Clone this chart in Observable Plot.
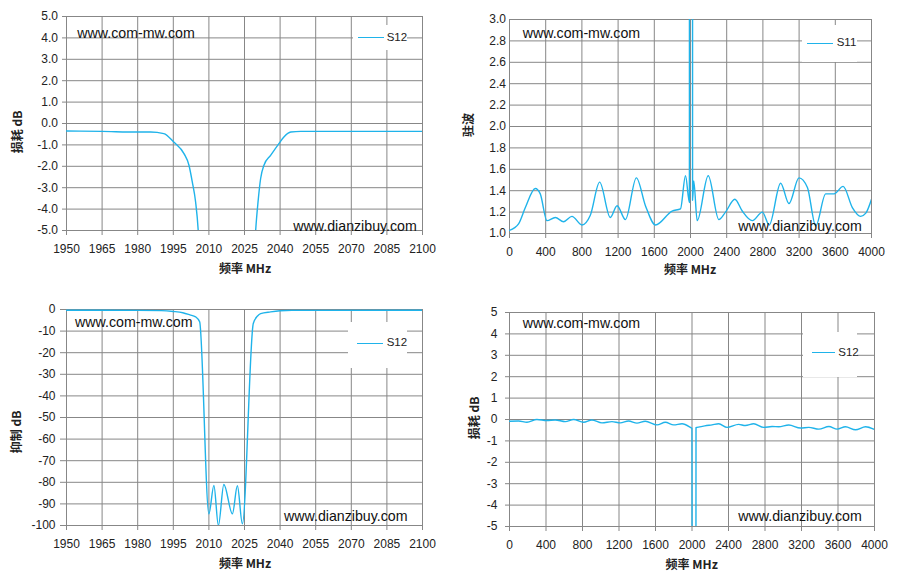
<!DOCTYPE html>
<html><head><meta charset="utf-8">
<script src="https://cdn.jsdelivr.net/npm/d3@7"></script>
<script src="https://cdn.jsdelivr.net/npm/@observablehq/plot@0.6"></script>
<style>
body{margin:0;background:#fff}
#wrap{position:relative;width:897px;height:577px;overflow:hidden;font-family:"Liberation Sans",Arial,"Noto Sans CJK SC",sans-serif;color:#222}
.abs{position:absolute;white-space:nowrap}
.wm{font-size:14.2px;color:#111;line-height:1;transform:translateY(-50%)}
.xt{font-size:12px;font-weight:bold;transform:translate(-50%,-50%);font-family:"Noto Sans CJK SC","Liberation Sans",sans-serif}
.yt{font-size:12px;font-weight:bold;transform:translate(-50%,-50%) rotate(-90deg);font-family:"Noto Sans CJK SC","Liberation Sans",sans-serif}
.lg{background:#fff}
.lgl{position:absolute;height:0;border-top:1.5px solid #1fb3ea}
.lgt{font-size:11.5px;transform:translateY(-50%);line-height:1}
</style></head>
<body><div id="wrap"></div>
<script>
// ---- data ----
// Panel 1: S12 insertion loss (zoom) 1950-2100 MHz
const f1 = [1950,1965,1980,1985.4,1991,1995.2,1999.5,2001.6,2003,2004.4,2005.5,2007,2028,2029.7,2030.7,2031.8,2033.2,2036,2039.5,2041.6,2044.5,2048.7,2070,2100];
const s1 = [-0.35,-0.37,-0.4,-0.4,-0.47,-0.87,-1.41,-1.95,-2.73,-3.67,-5.0,-9,-9,-5.0,-3.67,-2.57,-1.95,-1.49,-0.94,-0.63,-0.4,-0.37,-0.37,-0.37];
// Panel 2: S11 VSWR 0-4000 MHz
const f2 = [0,100,174,285,340,414,506,598,690,801,893,996,1114,1189,1281,1402,1502,1613,1797,1889,1945,1988,1993,2018,2023,2036,2074,2196,2313,2387,2490,2572,2683,2794,2870,2996,3088,3199,3292,3384,3494,3586,3686,3790,3880,3937,4000];
const v2 = [1.03,1.09,1.24,1.42,1.37,1.12,1.15,1.11,1.16,1.08,1.17,1.48,1.15,1.26,1.13,1.52,1.26,1.08,1.21,1.23,1.54,1.29,30,30,1.31,1.49,1.12,1.54,1.13,1.20,1.32,1.21,1.12,1.20,1.08,1.47,1.28,1.52,1.43,1.07,1.37,1.37,1.44,1.24,1.16,1.19,1.32];
// Panel 3: S12 rejection 1950-2100 MHz
const f3 = [1950,1980,1990,1995,1999,2002,2004.4,2006.1,2010,2012.1,2014,2016.3,2019.9,2022,2024.1,2028.7,2030.5,2031.8,2036,2040,2045,2100];
const s3 = [-0.35,-0.4,-0.5,-0.9,-1.5,-2.5,-3.4,-5.7,-94.6,-81.5,-100,-81,-94.6,-81.6,-99.2,-6.5,-3,-1.9,-1.1,-0.6,-0.4,-0.37];
// Panel 4: S12 insertion loss 0-4000 MHz
const f4 = [0,100,191,300,410,501,611,702,812,903,1013,1123,1214,1305,1397,1488,1617,1708,1799,1891,1982,2000,2004,2040,2044,2055,2140,2220,2293,2384,2511,2585,2676,2786,2878,2951,3061,3189,3280,3390,3500,3591,3682,3792,3902,4000];
const s4 = [-0.08,-0.07,-0.13,0.0,-0.05,-0.02,-0.1,0.0,-0.13,-0.02,-0.16,-0.1,-0.16,-0.07,-0.17,-0.08,-0.25,-0.13,-0.25,-0.2,-0.37,-0.42,-30,-30,-0.38,-0.37,-0.3,-0.25,-0.2,-0.37,-0.23,-0.28,-0.2,-0.37,-0.33,-0.34,-0.26,-0.4,-0.37,-0.45,-0.33,-0.45,-0.34,-0.48,-0.34,-0.47];

// tick labels
const xTicksNarrow = [1950,1965,1980,1995,2010,2025,2040,2055,2070,2085,2100];
const xTicksWide = [0,400,800,1200,1600,2000,2400,2800,3200,3600,4000];
const yTicks1 = [-5,-4,-3,-2,-1,0,1,2,3,4,5];
const yTicks2 = [1.0,1.2,1.4,1.6,1.8,2.0,2.2,2.4,2.6,2.8,3.0];
const yTicks3 = [0,-10,-20,-30,-40,-50,-60,-70,-80,-90,-100];
const yTicks4 = [-5,-4,-3,-2,-1,0,1,2,3,4,5];

const seriesNames = ["S12","S11","S12","S12"];
const yTitles = ["损耗 dB","驻波","抑制 dB","损耗 dB"];
const xTitle = "频率 MHz";
const watermarks = ["www.com-mw.com","www.dianzibuy.com"];

const LINE = "#1fb3ea", GRID = "#878787";
const wrap = document.getElementById("wrap");

function panel(c) {
  const data = c.f.map((f, i) => ({f, v: c.v[i]}));
  const svg = Plot.plot({
    width: c.w, height: c.h,
    marginTop: c.m[0], marginRight: c.m[1], marginBottom: c.m[2], marginLeft: c.m[3],
    x: {domain: c.xd, label: null},
    y: {domain: c.yd, label: null},
    style: {fontSize: "12px", fontFamily: "'Liberation Sans', Arial, sans-serif", color: "#222", background: "transparent", overflow: "visible"},
    marks: [
      Plot.gridX(c.xt, {stroke: GRID, strokeOpacity: 1}),
      Plot.gridY(c.yt, {stroke: GRID, strokeOpacity: 1}),
      Plot.axisX(c.xt, {tickSize: 5, tickPadding: 8.5, stroke: GRID, fill: "#222", tickFormat: d => String(d), label: null}),
      Plot.axisY(c.yt, {tickSize: c.yts, tickPadding: c.ytp, stroke: GRID, fill: "#222", tickFormat: c.fmt, label: null}),
      Plot.line(data, {x: "f", y: "v", stroke: LINE, strokeWidth: 1.4, curve: "monotone-x", clip: true})
    ]
  });
  svg.style.position = "absolute";
  svg.style.left = c.l + "px";
  svg.style.top = c.t + "px";
  wrap.appendChild(svg);
}

const fmt1 = d => d.toFixed(1);
const fmt0 = d => String(d);
panel({f: f1, v: s1, l: 0, t: 0, w: 450, h: 290, m: [16, 28, 60, 66], xd: [1950, 2100], yd: [-5, 5], xt: xTicksNarrow, yt: yTicks1, fmt: fmt1, yts: 4, ytp: 4.5});
panel({f: f2, v: v2, l: 450, t: 0, w: 447, h: 290, m: [19, 26, 57, 59], xd: [0, 4000], yd: [1, 3], xt: xTicksWide, yt: yTicks2, fmt: fmt1, yts: 0, ytp: 3.5});
panel({f: f3, v: s3, l: 0, t: 290, w: 450, h: 287, m: [19, 28, 52, 66], xd: [1950, 2100], yd: [-100, 0], xt: xTicksNarrow, yt: yTicks3, fmt: fmt0, yts: 6, ytp: 5});
panel({f: f4, v: s4, l: 450, t: 290, w: 447, h: 287, m: [22, 23, 51, 59], xd: [0, 4000], yd: [-5, 5], xt: xTicksWide, yt: yTicks4, fmt: fmt0, yts: 4, ytp: 8});

function div(cls, style, text) {
  const d = document.createElement("div");
  d.className = "abs " + cls;
  Object.assign(d.style, style);
  if (text != null) d.textContent = text;
  wrap.appendChild(d);
  return d;
}
// legends
const legends = [
  {box: [353, 25, 54, 25], line: [358, 383.5, 37.7], text: [386.7, 37.7]},
  {box: [802, 25, 55, 37], line: [806.7, 833, 43.3], text: [836.7, 43.3]},
  {box: [348, 322, 59, 46], line: [356.7, 383.3, 343.3], text: [386.7, 343.3]},
  {box: [803, 332, 54, 45], line: [811.7, 835, 352.7], text: [838.3, 352.7]}
];
legends.forEach((g, i) => {
  div("lg", {left: g.box[0] + "px", top: g.box[1] + "px", width: g.box[2] + "px", height: g.box[3] + "px"});
  const ln = document.createElement("div");
  ln.className = "lgl";
  Object.assign(ln.style, {left: g.line[0] + "px", width: (g.line[1] - g.line[0]) + "px", top: (g.line[2] - 0.75) + "px"});
  wrap.appendChild(ln);
  div("lgt", {left: g.text[0] + "px", top: g.text[1] + "px"}, seriesNames[i]);
});
// watermarks
const wmPos = [
  [[77.3, 33.3], [293.3, 226]],
  [[522.7, 33.3], [738.3, 226]],
  [[75, 322.3], [284, 515.7]],
  [[522.7, 323.3], [738.3, 516]]
];
wmPos.forEach(p => p.forEach((q, j) => div("wm", {left: q[0] + "px", top: q[1] + "px"}, watermarks[j])));
// axis titles
const xtPos = [[245, 266.7], [690, 268.3], [245, 561.7], [691.7, 563.3]];
const ytPos = [[16, 131.7], [466.7, 125], [15, 431.7], [473.3, 418.3]];
xtPos.forEach(p => div("xt", {left: p[0] + "px", top: p[1] + "px"}, xTitle));
ytPos.forEach((p, i) => div("yt", {left: p[0] + "px", top: p[1] + "px"}, yTitles[i]));
</script>
</body></html>
